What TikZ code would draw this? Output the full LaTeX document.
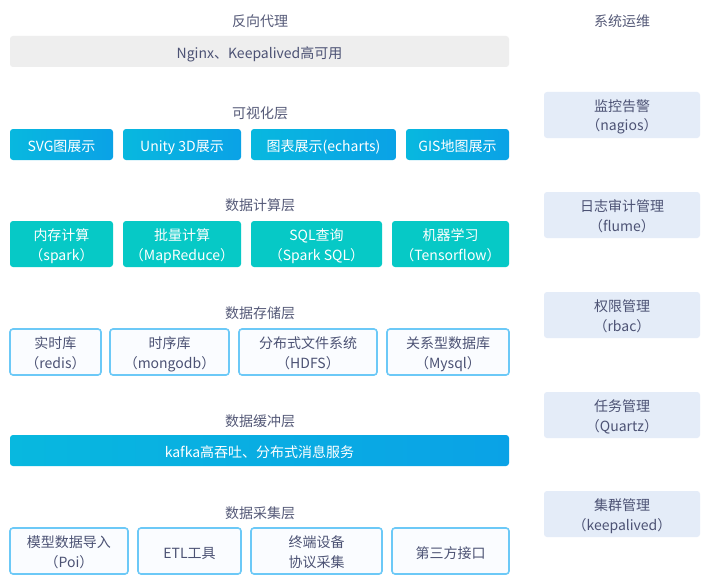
\documentclass[tikz,border=0pt]{standalone}
\usepackage{fontspec}
\setmainfont{Noto Sans CJK SC}
\definecolor{titlec}{HTML}{555A78}
\definecolor{textc}{HTML}{4C5274}
\definecolor{grayfill}{HTML}{EEEEEE}
\definecolor{blueL}{HTML}{08B8DF}
\definecolor{blueR}{HTML}{0AA2E6}
\definecolor{tealc}{HTML}{06C9C6}
\definecolor{borderc}{HTML}{6CC9F7}
\definecolor{lightfill}{HTML}{FAFCFF}
\definecolor{opsfill}{HTML}{E4ECF8}
\tikzset{
  base/.style={anchor=north west, inner sep=0pt, outer sep=0pt, align=center,
    rounded corners=3pt, font=\fontsize{14}{20}\selectfont, text depth=0pt, text height=14pt},
  twoline/.style={text height=32pt},
  title/.style={inner sep=0pt, text=titlec, font=\fontsize{14}{16}\selectfont},
  graybar/.style={base, fill=grayfill, text=textc},
  bluebox/.style={base, left color=blueL, right color=blueR, text=white},
  tealbox/.style={base, fill=tealc, text=white},
  linebox/.style={base, draw=borderc, line width=1.6pt, fill=lightfill, text=textc},
  opsbox/.style={base, fill=opsfill, text=textc},
}
\begin{document}
\begin{tikzpicture}[x=1pt, y=-1pt]
\fill[white] (0,0) rectangle (710,586);
\useasboundingbox (0,0) rectangle (710,586);

% 反向代理
\node[title] (t1) at (260,21) {反向代理};
\node[graybar, minimum width=499pt, minimum height=31pt] (proxy) at (10,36) {Nginx、Keepalived高可用};

% 可视化层
\node[title] (t2) at (260,113) {可视化层};
\node[bluebox, minimum width=103pt, minimum height=31pt] (v1) at (10,129) {SVG图展示};
\node[bluebox, minimum width=118pt, minimum height=31pt] (v2) at (123,129) {Unity 3D展示};
\node[bluebox, minimum width=145pt, minimum height=31pt] (v3) at (251,129) {图表展示(echarts)};
\node[bluebox, minimum width=103pt, minimum height=31pt] (v4) at (406,129) {GIS地图展示};

% 数据计算层
\node[title] (t3) at (260,205) {数据计算层};
\node[tealbox, twoline, minimum width=103pt, minimum height=46pt] (c1) at (10,221) {内存计算\\（spark）};
\node[tealbox, twoline, minimum width=118pt, minimum height=46pt] (c2) at (123,221) {批量计算\\（MapReduce）};
\node[tealbox, twoline, minimum width=131pt, minimum height=46pt] (c3) at (251,221) {SQL查询\\（Spark SQL）};
\node[tealbox, twoline, minimum width=117pt, minimum height=46pt] (c4) at (392,221) {机器学习\\（Tensorflow）};

% 数据存储层
\node[title] (t4) at (260,313) {数据存储层};
\node[linebox, twoline, minimum width=91pt, minimum height=46pt] (s1) at (10,329) {实时库\\（redis）};
\node[linebox, twoline, minimum width=119pt, minimum height=46pt] (s2) at (110,329) {时序库\\（mongodb）};
\node[linebox, twoline, minimum width=138pt, minimum height=46pt] (s3) at (239,329) {分布式文件系统\\（HDFS）};
\node[linebox, twoline, minimum width=122pt, minimum height=46pt] (s4) at (387,329) {关系型数据库\\（Mysql）};

% 数据缓冲层
\node[title] (t5) at (260,421) {数据缓冲层};
\node[bluebox, minimum width=499pt, minimum height=31pt] (kafka) at (10,435) {kafka高吞吐、分布式消息服务};

% 数据采集层
\node[title] (t6) at (260,513) {数据采集层};
\node[linebox, twoline, minimum width=118pt, minimum height=46pt] (a1) at (10,528) {模型数据导入\\（Poi）};
\node[linebox, minimum width=103pt, minimum height=46pt] (a2) at (138,528) {ETL工具};
\node[linebox, twoline, minimum width=131pt, minimum height=46pt] (a3) at (251,528) {终端设备\\协议采集};
\node[linebox, minimum width=117pt, minimum height=46pt] (a4) at (392,528) {第三方接口};

% 系统运维
\node[title] (t7) at (622,21) {系统运维};
\node[opsbox, twoline, minimum width=156pt, minimum height=46pt] (o1) at (544,92) {监控告警\\（nagios）};
\node[opsbox, twoline, minimum width=156pt, minimum height=46pt] (o2) at (544,192) {日志审计管理\\（flume）};
\node[opsbox, twoline, minimum width=156pt, minimum height=46pt] (o3) at (544,292) {权限管理\\（rbac）};
\node[opsbox, twoline, minimum width=156pt, minimum height=46pt] (o4) at (544,392) {任务管理\\（Quartz）};
\node[opsbox, twoline, minimum width=156pt, minimum height=46pt] (o5) at (544,491) {集群管理\\（keepalived）};
\end{tikzpicture}
\end{document}
